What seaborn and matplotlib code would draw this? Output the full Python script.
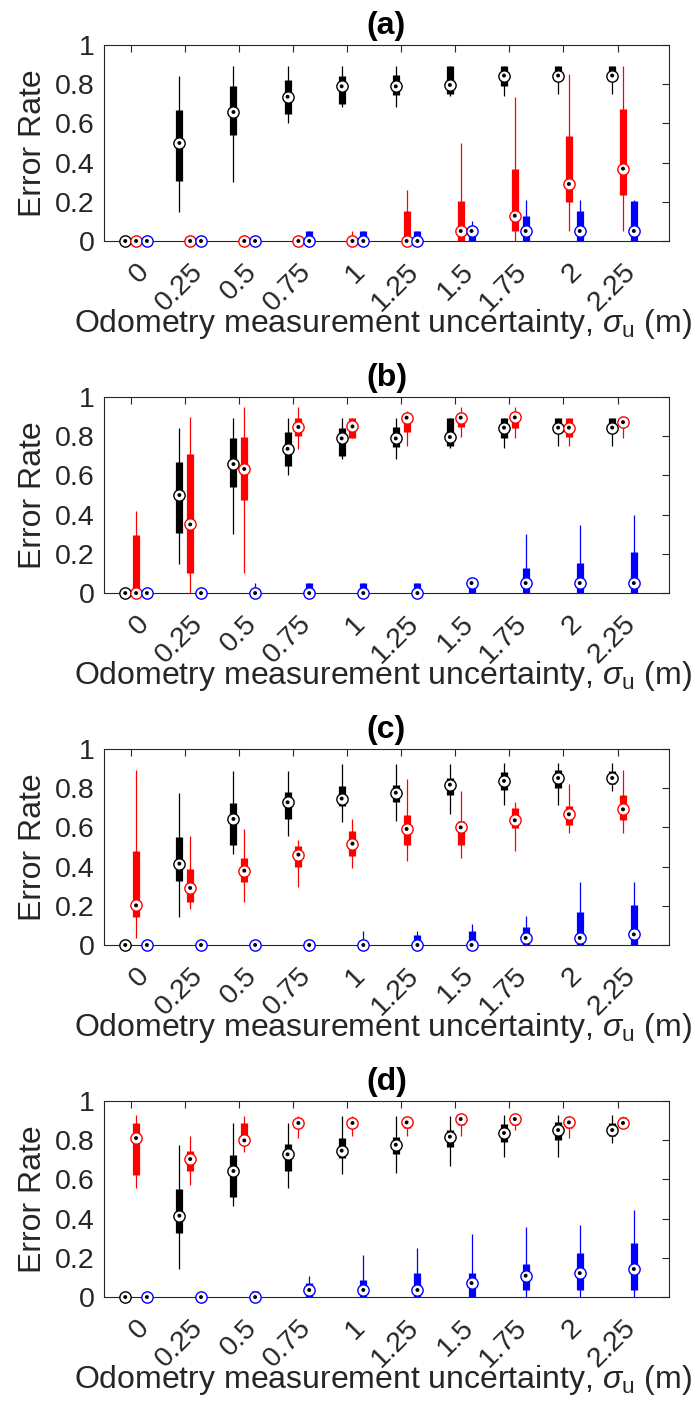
import numpy as np
import pandas as pd
import matplotlib
matplotlib.use("Agg")
import matplotlib.pyplot as plt
import seaborn as sns
from matplotlib.transforms import ScaledTranslation

# ---------------- data ----------------
categories = ["0", "0.25", "0.5", "0.75", "1", "1.25", "1.5", "1.75", "2", "2.25"]
yticks = [0, 0.2, 0.4, 0.6, 0.8, 1]
ytick_labels = ["0", "0.2", "0.4", "0.6", "0.8", "1"]
panel_titles = ["(a)", "(b)", "(c)", "(d)"]

# black series (same in a/b and in c/d)
black_ab_lo = [0, 0.150, 0.300, 0.600, 0.685, 0.685, 0.738, 0.738, 0.752, 0.752]
black_ab_q1 = [0, 0.308, 0.539, 0.650, 0.701, 0.743, 0.752, 0.793, 0.830, 0.830]
black_ab_med = [0, 0.500, 0.658, 0.736, 0.789, 0.789, 0.796, 0.844, 0.844, 0.844]
black_ab_q3 = [0, 0.667, 0.793, 0.823, 0.844, 0.849, 0.893, 0.893, 0.893, 0.893]
black_ab_hi = [0, 0.840, 0.893, 0.893, 0.893, 0.893, 0.893, 0.893, 0.893, 0.893]

black_cd_lo = [0, 0.143, 0.464, 0.554, 0.629, 0.631, 0.667, 0.714, 0.714, 0.786]
black_cd_q1 = [0, 0.328, 0.510, 0.643, 0.707, 0.728, 0.767, 0.789, 0.803, 0.823]
black_cd_med = [0, 0.415, 0.643, 0.728, 0.747, 0.777, 0.818, 0.837, 0.852, 0.852]
black_cd_q3 = [0, 0.553, 0.724, 0.779, 0.810, 0.818, 0.854, 0.883, 0.891, 0.886]
black_cd_hi = [0, 0.776, 0.886, 0.886, 0.923, 0.923, 0.923, 0.929, 0.929, 0.929]

# panel (a)
red_a_lo = [0, 0, 0, 0, 0, 0, 0, 0, 0.051, 0.051]
red_a_q1 = [0, 0, 0, 0, 0, 0, 0, 0.053, 0.201, 0.233]
red_a_med = [0, 0, 0, 0, 0, 0, 0.051, 0.129, 0.291, 0.369]
red_a_q3 = [0, 0, 0, 0, 0, 0.153, 0.202, 0.367, 0.536, 0.673]
red_a_hi = [0, 0, 0, 0, 0.050, 0.262, 0.498, 0.736, 0.852, 0.893]

blue_a_lo = [0, 0, 0, 0, 0, 0, 0, 0, 0, 0]
blue_a_q1 = [0, 0, 0, 0, 0, 0, 0, 0, 0, 0]
blue_a_med = [0, 0, 0, 0, 0, 0, 0.051, 0.051, 0.051, 0.051]
blue_a_q3 = [0, 0, 0, 0.050, 0.050, 0.050, 0.050, 0.129, 0.155, 0.202]
blue_a_hi = [0, 0, 0, 0.050, 0.050, 0.050, 0.100, 0.207, 0.207, 0.207]

# panel (b)
red_b_lo = [0, 0, 0.104, 0.736, 0.789, 0.750, 0.798, 0.789, 0.750, 0.789]
red_b_q1 = [0, 0.100, 0.476, 0.801, 0.789, 0.821, 0.849, 0.840, 0.798, 0.860]
red_b_med = [0, 0.350, 0.633, 0.847, 0.850, 0.895, 0.895, 0.896, 0.844, 0.872]
red_b_q3 = [0.298, 0.709, 0.798, 0.893, 0.893, 0.895, 0.895, 0.896, 0.893, 0.880]
red_b_hi = [0.420, 0.900, 0.947, 0.947, 0.893, 0.930, 0.947, 0.947, 0.893, 0.893]

blue_b_lo = [0, 0, 0, 0, 0, 0, 0, 0, 0, 0]
blue_b_q1 = [0, 0, 0, 0, 0, 0, 0, 0, 0, 0]
blue_b_med = [0, 0, 0, 0, 0, 0, 0.051, 0.051, 0.051, 0.051]
blue_b_q3 = [0, 0, 0, 0.050, 0.050, 0.050, 0.050, 0.129, 0.155, 0.207]
blue_b_hi = [0, 0, 0.050, 0.050, 0.050, 0.050, 0.050, 0.299, 0.349, 0.398]

# panel (c)
red_c_lo = [0.036, 0.185, 0.219, 0.294, 0.391, 0.429, 0.444, 0.481, 0.571, 0.571]
red_c_q1 = [0.143, 0.218, 0.321, 0.400, 0.456, 0.509, 0.509, 0.599, 0.614, 0.636]
red_c_med = [0.202, 0.291, 0.379, 0.461, 0.517, 0.592, 0.600, 0.636, 0.667, 0.692]
red_c_q3 = [0.478, 0.386, 0.442, 0.507, 0.582, 0.665, 0.634, 0.701, 0.707, 0.764]
red_c_hi = [0.891, 0.554, 0.590, 0.534, 0.641, 0.845, 0.784, 0.728, 0.820, 0.891]

blue_c_lo = [0, 0, 0, 0, 0, 0, 0, 0, 0, 0]
blue_c_q1 = [0, 0, 0, 0, 0, 0, 0, 0, 0, 0]
blue_c_med = [0, 0, 0, 0, 0, 0, 0, 0.036, 0.036, 0.054]
blue_c_q3 = [0, 0, 0, 0, 0.020, 0.049, 0.070, 0.090, 0.168, 0.202]
blue_c_hi = [0, 0, 0, 0, 0.070, 0.070, 0.109, 0.148, 0.320, 0.320]

# panel (d)
red_d_lo = [0.554, 0.571, 0.741, 0.813, 0.821, 0.821, 0.821, 0.852, 0.813, 0.870]
red_d_q1 = [0.624, 0.643, 0.780, 0.870, 0.870, 0.860, 0.880, 0.880, 0.860, 0.870]
red_d_med = [0.811, 0.704, 0.799, 0.888, 0.888, 0.891, 0.908, 0.908, 0.891, 0.888]
red_d_q3 = [0.886, 0.743, 0.888, 0.900, 0.900, 0.920, 0.920, 0.920, 0.920, 0.920]
red_d_hi = [0.929, 0.821, 0.923, 0.923, 0.923, 0.923, 0.930, 0.930, 0.923, 0.923]

blue_d_lo = [0, 0, 0, 0, 0, 0, 0, 0, 0, 0]
blue_d_q1 = [0, 0, 0, 0, 0, 0, 0, 0.036, 0.036, 0.036]
blue_d_med = [0, 0, 0, 0.036, 0.036, 0.036, 0.071, 0.109, 0.122, 0.143]
blue_d_q3 = [0, 0, 0.030, 0.070, 0.087, 0.124, 0.124, 0.167, 0.223, 0.274]
blue_d_hi = [0, 0, 0.030, 0.105, 0.216, 0.248, 0.320, 0.355, 0.369, 0.444]

# ---------------- assemble ----------------
def frame(lo, q1, med, q3, hi):
    return pd.DataFrame({"cat": categories, "lo": lo, "q1": q1,
                         "med": med, "q3": q3, "hi": hi})

black_ab = frame(black_ab_lo, black_ab_q1, black_ab_med, black_ab_q3, black_ab_hi)
black_cd = frame(black_cd_lo, black_cd_q1, black_cd_med, black_cd_q3, black_cd_hi)
panels = [
    [black_ab, frame(red_a_lo, red_a_q1, red_a_med, red_a_q3, red_a_hi),
     frame(blue_a_lo, blue_a_q1, blue_a_med, blue_a_q3, blue_a_hi)],
    [black_ab, frame(red_b_lo, red_b_q1, red_b_med, red_b_q3, red_b_hi),
     frame(blue_b_lo, blue_b_q1, blue_b_med, blue_b_q3, blue_b_hi)],
    [black_cd, frame(red_c_lo, red_c_q1, red_c_med, red_c_q3, red_c_hi),
     frame(blue_c_lo, blue_c_q1, blue_c_med, blue_c_q3, blue_c_hi)],
    [black_cd, frame(red_d_lo, red_d_q1, red_d_med, red_d_q3, red_d_hi),
     frame(blue_d_lo, blue_d_q1, blue_d_med, blue_d_q3, blue_d_hi)],
]
series_colors = ["#000000", "#ff0000", "#0000ff"]
series_offsets = [-0.1, 0.1, 0.3]

# ---------------- style ----------------
sns.set_style("white")
plt.rcParams["font.family"] = ["Liberation Sans", "DejaVu Sans"]
plt.rcParams["mathtext.fontset"] = "custom"
plt.rcParams["mathtext.rm"] = "Liberation Sans"
plt.rcParams["mathtext.it"] = "Liberation Sans:italic"
axcol = "#262626"

fig = plt.figure(figsize=(6.96, 14.06), dpi=100)
bottoms = [0.8286, 0.5782, 0.3279, 0.0775]

for title, bottom, series in zip(panel_titles, bottoms, panels):
    ax = fig.add_axes([0.1494, bottom, 0.8118, 0.1394])
    for k, (df, col, off) in enumerate(zip(series, series_colors, series_offsets)):
        xpos = np.arange(len(df)) + off
        z = 3 + k
        ax.vlines(xpos, df["lo"], df["hi"], color=col, lw=0.9, zorder=z)
        bx = ax.vlines(xpos, df["q1"], df["q3"], color=col, lw=5.2, zorder=z + 0.1)
        bx.set_capstyle("butt")
        sns.scatterplot(x=xpos, y=df["med"].values, ax=ax, color="white",
                        edgecolor=col, s=66, linewidth=1.0, zorder=z + 0.2,
                        clip_on=False, legend=False)
        sns.scatterplot(x=xpos, y=df["med"].values, ax=ax, color="black",
                        edgecolor="none", s=8, zorder=z + 0.3,
                        clip_on=False, legend=False)

    ax.set_xlim(-0.493, 9.95)
    ax.set_ylim(0, 1)
    ax.set_yticks(yticks)
    ax.set_yticklabels(ytick_labels)
    ax.set_xticks(np.arange(len(categories)))
    ax.tick_params(axis="both", direction="in", top=True, right=True, length=5,
                   width=0.8, color=axcol, labelcolor=axcol, labelsize=20.5)
    ax.tick_params(axis="x", pad=12.5)
    ax.tick_params(axis="y", pad=7)
    ax.set_xticklabels(categories, rotation=45, ha="right", va="top",
                       rotation_mode="anchor")
    shift = ScaledTranslation(0.05, 0, fig.dpi_scale_trans)
    for lab in ax.get_xticklabels():
        lab.set_transform(lab.get_transform() + shift)
    for sp in ax.spines.values():
        sp.set_color(axcol)
        sp.set_linewidth(0.8)
    ax.set_title(title, fontsize=23, fontweight="bold", pad=8, color="black")
    ax.set_ylabel("Error Rate", fontsize=23, color=axcol)
    ax.yaxis.set_label_coords(-0.099, 0.5)
    ax.set_xlabel(r"Odometry measurement uncertainty, $\sigma_{\mathrm{u}}$ (m)",
                  fontsize=23, color=axcol)
    ax.xaxis.set_label_coords(0.493, -0.335)

fig.savefig("out.png", dpi=100, facecolor="white")
